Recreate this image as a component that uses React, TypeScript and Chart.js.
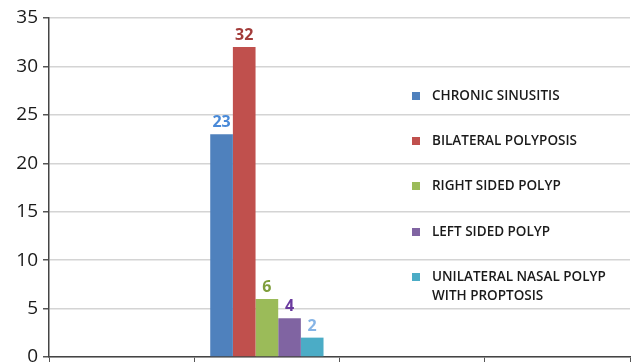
import React, { useEffect, useRef } from "react";
import { Chart, registerables } from "chart.js";

Chart.register(...registerables);

const categories = ["", "", "", ""];
const seriesNames = [
  "CHRONIC SINUSITIS",
  "BILATERAL POLYPOSIS",
  "RIGHT SIDED POLYP",
  "LEFT SIDED POLYP",
  "UNILATERAL NASAL POLYP|WITH PROPTOSIS",
];
const seriesValues = [23, 32, 6, 4, 2];
const seriesColors = ["#4f81bd", "#c0504d", "#9bbb59", "#8064a2", "#4bacc6"];
const labelColors = ["#4a8ad8", "#a33c3a", "#7f9e3c", "#6a3a9e", "#86b4e6"];
const dataCategoryIndex = 1;
const yTicks = [0, 5, 10, 15, 20, 25, 30, 35];

const labelPlugin = {
  id: "valueLabels",
  afterDatasetsDraw(chart: any) {
    const ctx = chart.ctx;
    ctx.save();
    ctx.font = "bold 16px 'Open Sans', sans-serif";
    ctx.textAlign = "center";
    ctx.textBaseline = "alphabetic";
    chart.data.datasets.forEach((ds: any, i: number) => {
      const el = chart.getDatasetMeta(i).data[dataCategoryIndex];
      if (!el) return;
      ctx.fillStyle = labelColors[i];
      ctx.fillText(String(ds.data[dataCategoryIndex]), el.x, el.y - 7);
    });
    ctx.restore();
  },
};

const legendPlugin = {
  id: "sideLegend",
  afterDraw(chart: any) {
    const ctx = chart.ctx;
    ctx.save();
    ctx.font = "600 13.5px 'Open Sans', sans-serif";
    ctx.textBaseline = "middle";
    ctx.textAlign = "left";
    const rows = [96, 141, 186, 232, 277];
    seriesNames.forEach((name, i) => {
      const y = rows[i];
      ctx.fillStyle = seriesColors[i];
      ctx.fillRect(412, y - 4, 8, 8);
      ctx.fillStyle = "#1a1a1a";
      name.split("|").forEach((line, j) => {
        ctx.fillText(line, 432, y + j * 19);
      });
    });
    ctx.restore();
  },
};

export default function App() {
  const ref = useRef<HTMLCanvasElement>(null);
  useEffect(() => {
    if (!ref.current) return;
    const chart = new Chart(ref.current, {
      type: "bar",
      data: {
        labels: categories,
        datasets: seriesNames.map((n, i) => ({
          label: n.replace("|", " "),
          data: categories.map((_, c) => (c === dataCategoryIndex ? seriesValues[i] : null)),
          backgroundColor: seriesColors[i],
          borderWidth: 0,
          barPercentage: 1,
          categoryPercentage: 0.78,
        })),
      },
      options: {
        animation: false,
        responsive: false,
        maintainAspectRatio: false,
        layout: { padding: { top: 18, right: 1, left: 0, bottom: 0 } },
        plugins: { legend: { display: false }, tooltip: { enabled: false } },
        scales: {
          x: {
            grid: {
              offset: true,
              drawOnChartArea: false,
              drawTicks: true,
              tickLength: 5,
              color: "#555",
            },
            border: { color: "#444", width: 1.5 },
            ticks: { display: false },
            afterFit: (s: any) => { s.height = 7; },
          },
          y: {
            min: 0,
            max: 35,
            afterBuildTicks: (s: any) => { s.ticks = yTicks.map((v) => ({ value: v })); },
            grid: { color: "#d4d4d4", lineWidth: 1.5, tickLength: 6, tickColor: "#555" },
            border: { color: "#444", width: 1.5 },
            ticks: {
              font: { family: "'Open Sans', sans-serif", size: 19 },
              color: "#1a1a1a",
              padding: 5,
            },
            afterFit: (s: any) => {
              s.width = 49;
              s.paddingTop = 0;
              s.paddingBottom = 0;
            },
          },
        },
      },
      plugins: [labelPlugin, legendPlugin],
    });
    return () => chart.destroy();
  }, []);
  return (
    <div style={{ position: "fixed", left: 0, top: 0, width: 631, height: 364, background: "#fff" }}>
      <canvas ref={ref} width={631} height={364} />
    </div>
  );
}
